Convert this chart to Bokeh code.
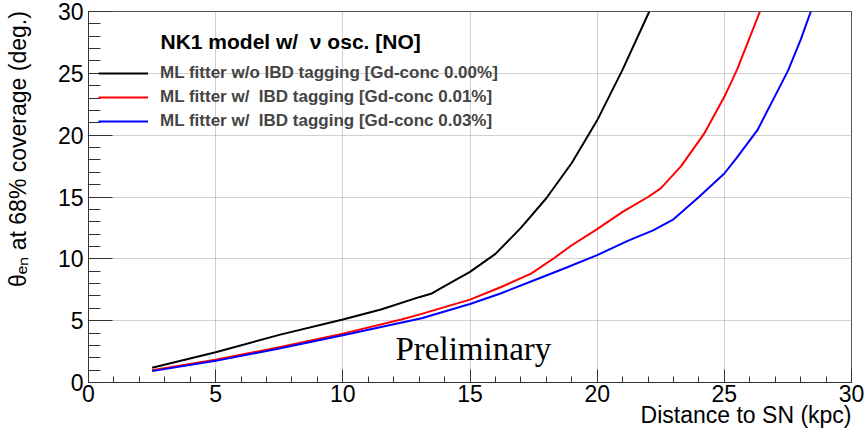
from bokeh.plotting import figure
from bokeh.models import Range1d, FixedTicker, Label, Legend, LegendItem, Title
from bokeh.embed import file_html
from bokeh.resources import INLINE

# ---- data ----
x_black = [2.5, 5, 7.5, 10, 11.5, 13, 13.5, 14, 15, 16, 17, 18, 19, 20, 21, 22.05]
y_black = [1.2, 2.45, 3.85, 5.1, 5.9, 6.9, 7.2, 7.8, 8.95, 10.4, 12.5, 14.9, 17.75, 21.2, 25.3, 30.0]

x_red = [2.5, 5, 7.5, 10, 12.3, 13.1, 15, 16.2, 17.4, 18.3, 19, 20, 21, 22, 22.5, 23.3, 24.2, 25, 25.5, 26, 26.4]
y_red = [1.0, 1.85, 2.85, 3.95, 5.1, 5.55, 6.7, 7.7, 8.8, 10.05, 11.1, 12.4, 13.8, 15.0, 15.7, 17.5, 20.1, 23.1, 25.3, 27.9, 30.0]

x_blue = [2.5, 5, 7.5, 10, 13.1, 15, 16.2, 17.5, 18.8, 20, 21.2, 22.2, 23, 24, 25, 25.5, 26.3, 27, 27.5, 28, 28.4]
y_blue = [0.92, 1.75, 2.75, 3.82, 5.2, 6.35, 7.2, 8.25, 9.3, 10.3, 11.45, 12.3, 13.2, 15.0, 16.9, 18.2, 20.4, 23.2, 25.2, 27.7, 30.0]

series_labels = [
    "ML fitter w/o IBD tagging [Gd-conc 0.00%]",
    "ML fitter w/\u00a0 IBD tagging [Gd-conc 0.01%]",
    "ML fitter w/\u00a0 IBD tagging [Gd-conc 0.03%]",
]
series_colors = ["#000000", "#ff0000", "#0000ff"]
header_text = "NK1 model w/\u00a0 \u03bd osc. [NO]"
x_title = "Distance to SN (kpc)"
y_title = "\u03b8\u2091\u2099 at 68% coverage (deg.)"
watermark = "Preliminary"

major_ticks = [0, 5, 10, 15, 20, 25, 30]
minor_ticks = list(range(0, 31))

X0, X1, Y0, Y1 = 0, 30, 0, 30

# ---- layout ----
W, H = 867, 433
ML, MR, MT, MB = 88, 16, 11, 51
FW = W - ML - MR
FH = H - MT - MB
sx = FW / (X1 - X0)   # pixels per x unit
sy = FH / (Y1 - Y0)   # pixels per y unit

FONT = "Liberation Sans"

p = figure(width=W, height=H, output_backend="svg", toolbar_location=None,
           x_range=Range1d(X0, X1), y_range=Range1d(Y0, Y1), title=None,
           min_border_left=ML, min_border_right=MR, min_border_top=MT,
           min_border_bottom=MB)
p.background_fill_color = "white"
p.border_fill_color = "white"
p.outline_line_color = "#555555"
p.outline_line_width = 1

for ax in (p.xaxis, p.yaxis):
    ax.ticker = FixedTicker(ticks=major_ticks, minor_ticks=minor_ticks)
    ax.major_tick_out = 0
    ax.minor_tick_out = 0
    ax.axis_line_color = "#333333"
    ax.major_tick_line_color = "#333333"
    ax.minor_tick_line_color = "#333333"
    ax.major_label_text_font = FONT
    ax.major_label_text_font_size = "23px"
    ax.major_label_text_color = "black"
p.xaxis.major_tick_in = 13
p.xaxis.minor_tick_in = 6
p.yaxis.major_tick_in = 24
p.yaxis.minor_tick_in = 12
p.xaxis.major_label_standoff = 2
p.yaxis.major_label_standoff = 5

p.xgrid.ticker = FixedTicker(ticks=major_ticks)
p.ygrid.ticker = FixedTicker(ticks=major_ticks)
for g in (p.xgrid, p.ygrid):
    g.grid_line_color = "#a0a0a0"
    g.grid_line_dash = "1 1"
    g.grid_line_width = 1

r_black = p.line(x_black, y_black, line_color=series_colors[0], line_width=2)
r_red = p.line(x_red, y_red, line_color=series_colors[1], line_width=2)
r_blue = p.line(x_blue, y_blue, line_color=series_colors[2], line_width=2)

legend = Legend(
    items=[LegendItem(label=series_labels[0], renderers=[r_black]),
           LegendItem(label=series_labels[1], renderers=[r_red]),
           LegendItem(label=series_labels[2], renderers=[r_blue])],
    location=(10, FH - 50 - 72),
    orientation="vertical",
    label_text_font=FONT, label_text_font_style="bold",
    label_text_font_size="17px",
    glyph_width=50, glyph_height=24, label_height=24, label_standoff=12,
    spacing=0, padding=0, margin=0,
    border_line_color=None, background_fill_alpha=0,
)
p.add_layout(legend)

# header of the legend
p.add_layout(Label(x=X0 + 72 / sx, y=Y1 - 30 / sy, text=header_text,
                   text_font=FONT, text_font_style="bold", text_font_size="21px",
                   text_color="black", text_baseline="alphabetic", text_align="left"))

# watermark
p.add_layout(Label(x=X0 + 307 / sx, y=Y0 + 34 / sy, text=watermark,
                   text_font="Liberation Serif", text_font_size="33px",
                   text_color="black", text_baseline="alphabetic", text_align="left"))

# x title (ROOT style: aligned to the end of the axis)
p.add_layout(Title(text=x_title, align="right", text_font=FONT,
                   text_font_style="normal", text_font_size="23px",
                   text_color="black", standoff=-9), "below")

# y title: centred axis label, leading no-break spaces push the visible
# text towards the top end of the axis (ROOT style end alignment)
yax = p.yaxis[0]
yax.axis_label = "\u00a0" * 15 + y_title
yax.axis_label_standoff = 24
yax.axis_label_text_font = FONT
yax.axis_label_text_font_style = "normal"
yax.axis_label_text_font_size = "23px"
yax.axis_label_text_color = "black"

open("out.html", "w").write(file_html(p, INLINE))
